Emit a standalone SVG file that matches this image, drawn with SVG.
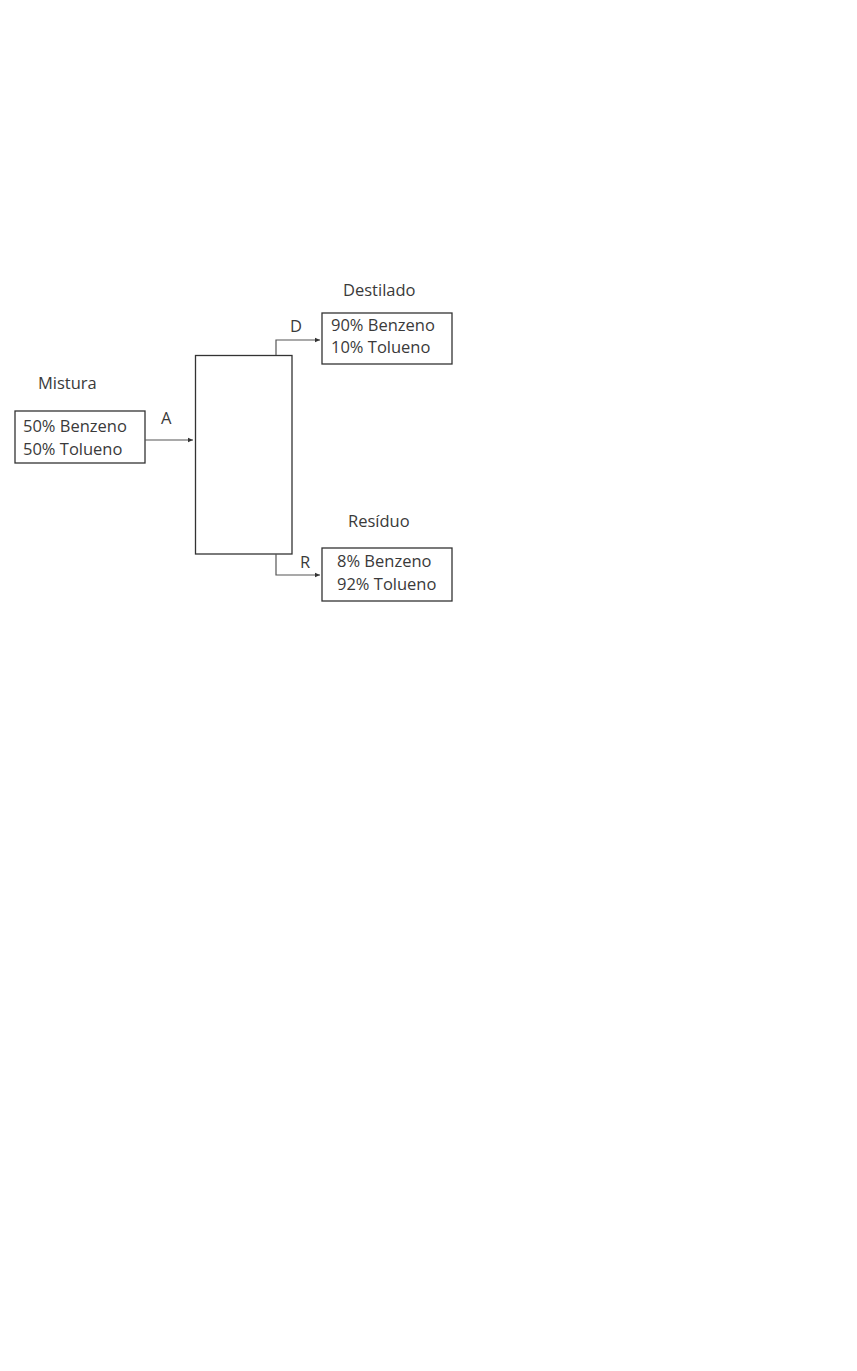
<svg xmlns="http://www.w3.org/2000/svg" width="857" height="1371" viewBox="0 0 857 1371">
<style>
.box{fill:#fff;stroke:#333;stroke-width:1.3}
.t{font-family:"Open Sans","Liberation Sans",sans-serif;font-size:16.5px;fill:#3a3a3a}
.ln{fill:none;stroke:#555;stroke-width:1.2}
</style>
<defs>
<marker id="ah" markerWidth="6" markerHeight="6" refX="5" refY="3" orient="auto" markerUnits="userSpaceOnUse">
<path d="M0,0.8 L5,3 L0,5.2 Z" fill="#333"/>
</marker>
</defs>
<rect width="857" height="1371" fill="#fff"/>
<g id="mistura">
<text class="t" x="38" y="389">Mistura</text>
<rect class="box" x="15" y="411" width="130" height="52"/>
<text class="t" x="23" y="432">50% Benzeno</text>
<text class="t" x="23" y="455">50% Tolueno</text>
</g>
<g id="coluna">
<rect class="box" x="195.5" y="355.5" width="96.5" height="198.5"/>
</g>
<g id="destilado">
<text class="t" x="343" y="296">Destilado</text>
<rect class="box" x="322" y="313" width="130" height="51"/>
<text class="t" x="331" y="331">90% Benzeno</text>
<text class="t" x="331" y="353">10% Tolueno</text>
</g>
<g id="residuo">
<text class="t" x="348" y="527">Resíduo</text>
<rect class="box" x="322" y="548" width="130" height="53"/>
<text class="t" x="337" y="567">8% Benzeno</text>
<text class="t" x="337" y="590">92% Tolueno</text>
</g>
<g id="connectors">
<path class="ln" d="M145,440 H193" marker-end="url(#ah)"/>
<path class="ln" d="M276,355 V340 H320" marker-end="url(#ah)"/>
<path class="ln" d="M276,554 V575 H320" marker-end="url(#ah)"/>
<text class="t" x="161" y="424">A</text>
<text class="t" x="290" y="332">D</text>
<text class="t" x="300" y="568">R</text>
</g>
</svg>
